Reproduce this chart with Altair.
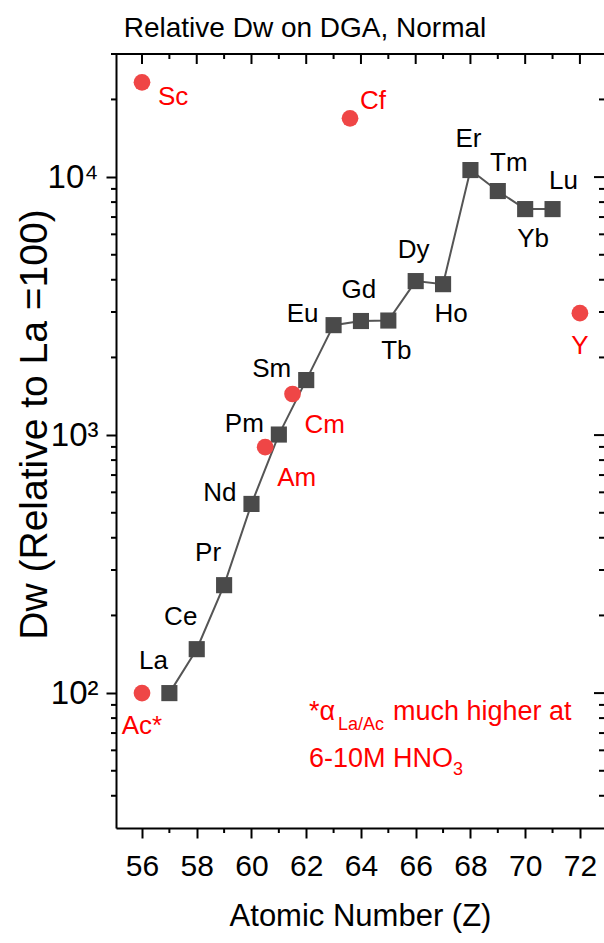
import altair as alt
import pandas as pd

# ---------------- data ----------------
title_text = "Relative Dw on DGA, Normal"

ln_names = ["La", "Ce", "Pr", "Nd", "Pm", "Sm", "Eu", "Gd", "Tb", "Dy", "Ho", "Er", "Tm", "Yb", "Lu"]
ln_z = [57, 58, 59, 60, 61, 62, 63, 64, 65, 66, 67, 68, 69, 70, 71]
ln_dw = [100, 148, 262, 541, 1005, 1634, 2668, 2768, 2780, 3953, 3846, 10650, 8830, 7516, 7516]
ln_place = ["nw", "nw", "nw", "w", "w", "w", "w", "n", "s", "n", "s", "n", "ne", "s", "ne"]

ot_names = ["Sc", "Cf", "Cm", "Am", "Ac*", "Y"]
ot_z = [56, 63.6, 61.5, 60.5, 56, 72]
ot_dw = [23300, 16900, 1443, 898, 100, 2970]
ot_place = ["e", "ne", "se", "se", "s", "s"]

x_major_ticks = [56, 58, 60, 62, 64, 66, 68, 70, 72]
x_minor_ticks = [57, 59, 61, 63, 65, 67, 69, 71]
y_major_ticks = [100, 1000, 10000]
y_major_labels = ["10\u00b2", "10\u00b3", "10\u2074"]
y_minor_ticks = [40, 50, 60, 70, 80, 90,
                 200, 300, 400, 500, 600, 700, 800, 900,
                 2000, 3000, 4000, 5000, 6000, 7000, 8000, 9000,
                 20000, 30000]

note_line1 = ["*\u03b1", "La/Ac", "much higher at"]
note_line2 = ["6-10M HNO", "3"]
note_z = 62.1
note_dw = [78.7, 51.7]

ln_df = pd.DataFrame({"name": ln_names, "z": ln_z, "dw": ln_dw, "place": ln_place})
ot_df = pd.DataFrame({"name": ot_names, "z": ot_z, "dw": ot_dw, "place": ot_place})
xmaj_df = pd.DataFrame({"z": x_major_ticks})
xmin_df = pd.DataFrame({"z": x_minor_ticks})
ymaj_df = pd.DataFrame({"dw": y_major_ticks})
ymin_df = pd.DataFrame({"dw": y_minor_ticks})

# ---------------- styles ----------------
FONT = "Liberation Sans, Arial"
RED = "#ff0000"
DOT = "#ef4646"
GREY = "#4a4a4a"
W, H = 488, 774
MAJ, MIN = 10, 5
Y_LO, Y_HI = 30, 30000
DECADES = 3  # log10(Y_HI / Y_LO)

xs = alt.Scale(domain=[55.05, 72.88], nice=False, zero=False)
ys = alt.Scale(type="log", domain=[Y_LO, Y_HI], nice=False)

label_expr = " : ".join(
    f"datum.value == {v} ? '{t}'" for v, t in zip(y_major_ticks, y_major_labels)
) + " : ''"

ax_bottom = alt.Axis(
    orient="bottom", values=x_major_ticks, tickSize=MAJ,
    tickWidth=2, tickColor="black", domainColor="black", domainWidth=2,
    labelFont=FONT, labelFontSize=30, labelColor="black", labelPadding=37,
    labelBaseline="alphabetic",
    labelOverlap=False, labelFlush=False, grid=False,
    title="Atomic Number (Z)", titleFont=FONT, titleFontSize=31,
    titleFontWeight="normal", titleColor="black",
    titleBaseline="alphabetic", titleY=97,
)
ax_left = alt.Axis(
    orient="left", values=y_major_ticks, tickSize=MAJ, labelExpr=label_expr,
    tickWidth=2, tickColor="black", domainColor="black", domainWidth=2,
    labelFont=FONT, labelFontSize=33, labelColor="black", labelPadding=8,
    labelOverlap=False, labelFlush=False, grid=False,
    title="Dw (Relative to La =100)", titleFont=FONT, titleFontSize=39,
    titleFontWeight="normal", titleColor="black",
    titleBaseline="alphabetic", titleX=-70, titleY=370,
)

X = alt.X("z:Q", scale=xs, axis=None)
Y = alt.Y("dw:Q", scale=ys, axis=None)

# ---------------- layers ----------------
line = alt.Chart(ln_df).mark_line(color="#555555", strokeWidth=2).encode(
    x=alt.X("z:Q", scale=xs, axis=ax_bottom),
    y=alt.Y("dw:Q", scale=ys, axis=ax_left),
)
squares = alt.Chart(ln_df).mark_square(size=260, color=GREY, opacity=1).encode(x=X, y=Y)
dots = alt.Chart(ot_df).mark_circle(size=280, color=DOT, opacity=1).encode(x=X, y=Y)


def rule(df, **enc):
    return alt.Chart(df).mark_rule(color="black", strokeWidth=2).encode(**enc)


def top_ticks(df, length):
    # inward ticks hanging from the top frame edge, as ranged rules on the y scale
    lower = Y_HI / 10 ** (length * DECADES / H)
    return (
        alt.Chart(df)
        .transform_calculate(top=f"{Y_HI}", bot=f"{lower}")
        .mark_rule(color="black", strokeWidth=2)
        .encode(
            x=X,
            y=alt.Y("top:Q", scale=ys, axis=None),
            y2=alt.Y2("bot:Q"),
        )
    )


tick_layers = [
    # top frame edge and its inward ticks
    rule(xmaj_df, x=alt.value(0), x2=alt.value(W), y=alt.value(0)),
    top_ticks(xmaj_df, MAJ),
    top_ticks(xmin_df, MIN),
    # bottom minor ticks (outward)
    rule(xmin_df, x=X, y=alt.value(H), y2=alt.value(H + MIN)),
    # left minor ticks (outward)
    rule(ymin_df, y=Y, x=alt.value(-MIN), x2=alt.value(0)),
    # right edge inward ticks
    rule(ymaj_df, y=Y, x=alt.value(W - MAJ), x2=alt.value(W)),
    rule(ymin_df, y=Y, x=alt.value(W - MIN), x2=alt.value(W)),
]

# chart title as text above the frame
title_layer = alt.Chart(pd.DataFrame({"t": [title_text]})).mark_text(
    font=FONT, fontSize=28, color="black", align="center", baseline="alphabetic"
).encode(x=alt.value(189), y=alt.value(-17), text="t:N")

LN_PLACE = {
    "nw": dict(align="center", dx=-16, dy=-24),
    "w": dict(align="right", dx=-15, dy=-3),
    "n": dict(align="center", dx=-2, dy=-23),
    "ne": dict(align="center", dx=11, dy=-20),
    "s": dict(align="center", dx=8, dy=38),
}
OT_PLACE = {
    "e": dict(align="left", dx=16, dy=23),
    "ne": dict(align="left", dx=10, dy=-9),
    "se": dict(align="left", dx=12, dy=39),
    "s": dict(align="center", dx=0, dy=41),
}


def label_layers(df, places, color):
    out = []
    for key, opts in places.items():
        out.append(
            alt.Chart(df).transform_filter(alt.datum.place == key)
            .mark_text(font=FONT, fontSize=26, color=color, baseline="alphabetic", **opts)
            .encode(x=X, y=Y, text="name:N")
        )
    return out


ln_labels = label_layers(ln_df, LN_PLACE, "black")
ot_labels = label_layers(ot_df, OT_PLACE, RED)

note_df1 = pd.DataFrame({"t": note_line1, "z": [note_z] * 3, "dw": [note_dw[0]] * 3})
note_df2 = pd.DataFrame({"t": note_line2, "z": [note_z] * 2, "dw": [note_dw[1]] * 2})

NOTE_PIECES = [
    (note_df1, 0, dict(dx=0, dy=0, fontSize=27)),
    (note_df1, 1, dict(dx=29, dy=10, fontSize=18)),
    (note_df1, 2, dict(dx=84, dy=0, fontSize=27)),
    (note_df2, 0, dict(dx=0, dy=0, fontSize=27)),
    (note_df2, 1, dict(dx=144, dy=8, fontSize=18)),
]
note_layers = []
for df, idx, opts in NOTE_PIECES:
    note_layers.append(
        alt.Chart(df).transform_filter(alt.datum.t == df["t"][idx])
        .mark_text(font=FONT, color=RED, align="left", baseline="alphabetic", **opts)
        .encode(x=X, y=Y, text="t:N")
    )

chart = alt.layer(
    line, squares, dots, *tick_layers, title_layer,
    *ln_labels, *ot_labels, *note_layers
).resolve_axis(
    x="independent", y="independent"
).properties(
    width=W,
    height=H,
    padding={"left": 116, "top": 54, "right": 0, "bottom": 115},
    autosize=alt.AutoSizeParams(type="none"),
).configure_view(stroke=None).configure(background="white")

chart.save("out.html", embed_options={"renderer": "svg", "actions": False})
